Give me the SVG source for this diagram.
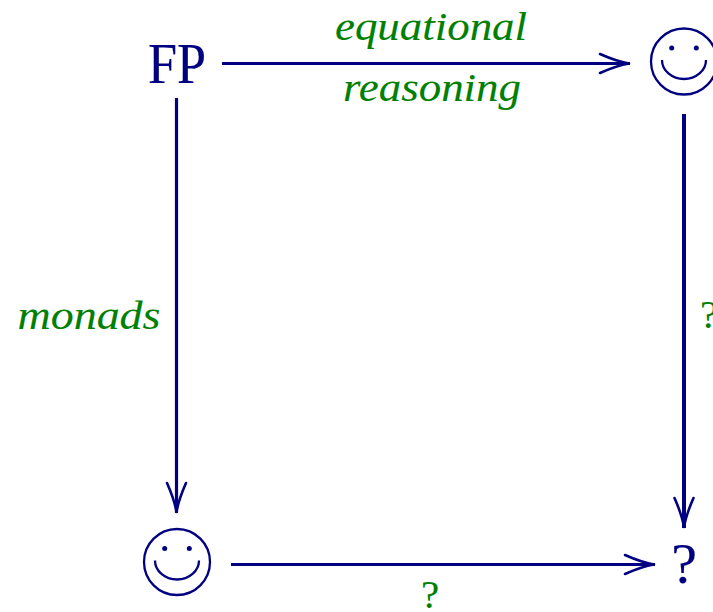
<svg xmlns="http://www.w3.org/2000/svg" width="713" height="612" viewBox="0 0 713 612">
<style>
text{font-family:"Liberation Serif",serif}
.n{fill:#000080;stroke:#000080;stroke-width:.2;font-size:58px;text-anchor:middle}
.l{fill:#008000;stroke:#008000;stroke-width:.1;font-size:41px;font-style:italic;text-anchor:middle}
.q{fill:#008000;stroke:#008000;stroke-width:.1;font-size:41px;text-anchor:middle}
.c{fill:none;stroke:#000080;stroke-width:3.200;marker-end:url(#head)}
.s{fill:none;stroke:#000080;stroke-width:2.300}
.e{fill:#000080}
</style>
<defs>
<marker id="head" markerUnits="userSpaceOnUse" viewBox="-32 -12 34 24" refX="0" refY="0" markerWidth="34" markerHeight="24" orient="auto">
<path d="M-30,-9.500 Q-13,-2 -1,0 Q-13,2 -30,9.500" fill="none" stroke="#000080" stroke-width="2.600" stroke-linecap="round" stroke-linejoin="round"/>
</marker>
<g id="smile">
<circle cx="0" cy="0" r="33" class="s"/>
<circle cx="-12.300" cy="-13.500" r="2.500" class="e"/>
<circle cx="12.300" cy="-13.500" r="2.500" class="e"/>
<path d="M-22,-1.500 A22,19 0 0 0 22,-1.500" class="s"/>
</g>
</defs>
<g id="connectors">
<path class="c" d="M222,63.500H630"/>
<path class="c" d="M176.500,98V513"/>
<path class="c" style="stroke-width:4" d="M684,114V528"/>
<path class="c" d="M231,564.500H655"/>
<text class="l" x="431" y="40" textLength="192" lengthAdjust="spacingAndGlyphs">equational</text>
<text class="l" x="432" y="101" textLength="178" lengthAdjust="spacingAndGlyphs">reasoning</text>
<text class="l" x="89" y="329" textLength="143" lengthAdjust="spacingAndGlyphs">monads</text>
<text class="q" x="709" y="328">?</text>
<text class="q" x="430" y="608">?</text>
</g>
<g id="fp"><text class="n" x="177" y="83" textLength="58" lengthAdjust="spacingAndGlyphs">FP</text></g>
<g id="smile-top"><use href="#smile" x="684" y="61.500"/></g>
<g id="smile-bottom"><use href="#smile" x="177" y="562"/></g>
<g id="question"><text class="n" x="684" y="583">?</text></g>
</svg>
